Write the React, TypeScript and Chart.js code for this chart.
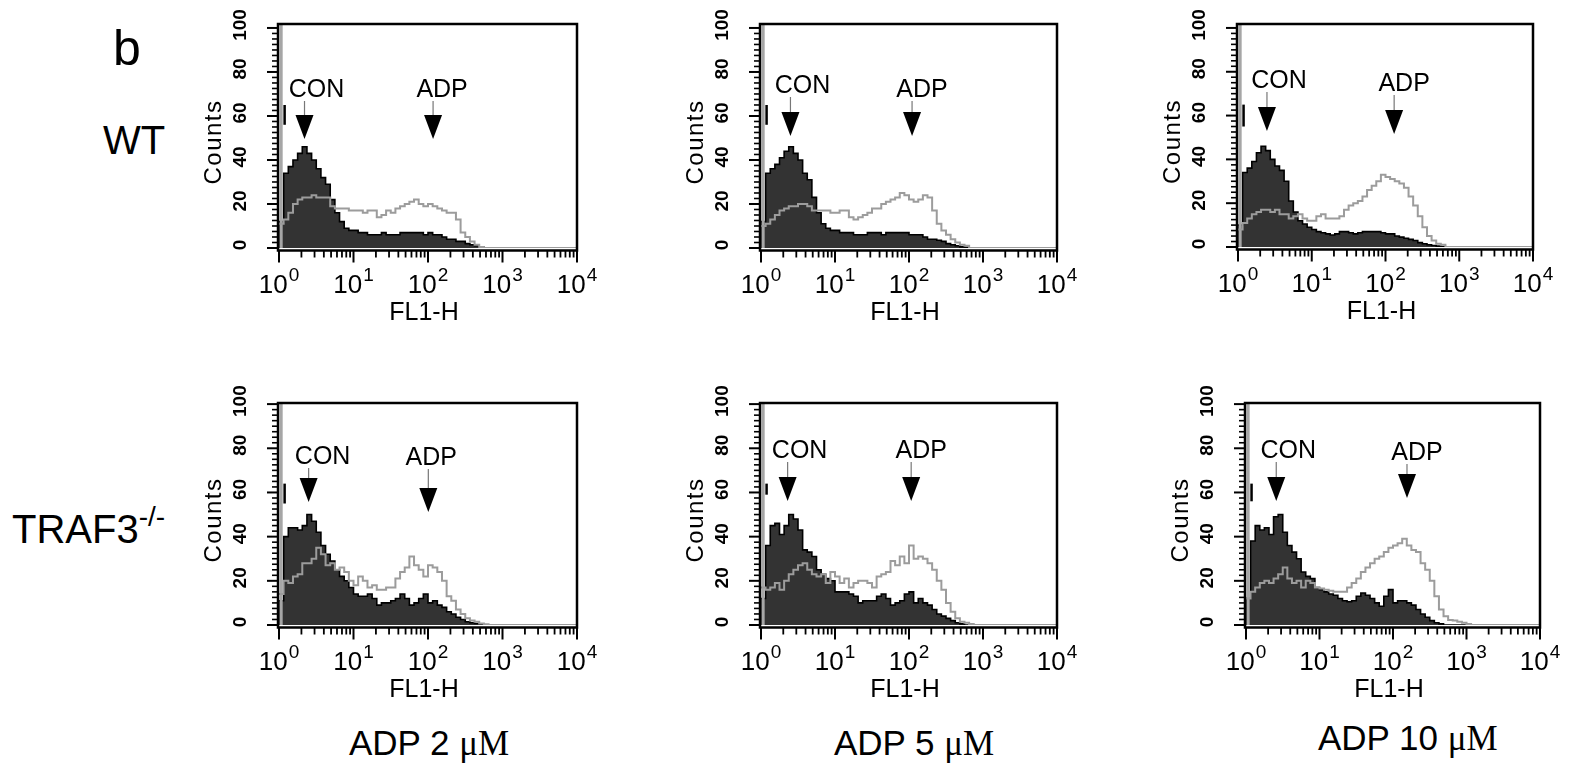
import React, { useEffect, useRef } from "react";
import { Chart, registerables } from "chart.js";

Chart.register(...registerables);

const SANS = '"Liberation Sans", Arial, Helvetica, sans-serif';
const SERIF = '"Liberation Serif", "Times New Roman", serif';

// ---- axis definitions ----
const BINS_PER_DECADE = 16;
const xDecades = [0, 1, 2, 3, 4];
const xMinorMultipliers = [2, 3, 4, 5, 6, 7, 8, 9];
const yTickLabels = [0, 20, 40, 60, 80, 100];
const yMinorStep = 2.5;

// ---- histogram counts (16 bins per decade, starting at 10^0) ----
// WT, ADP 2 uM
const wt2Con = [12, 34, 37, 40, 43, 46, 43, 40, 36, 32, 29, 22, 16, 12, 9, 8, 8, 7, 7, 6, 6, 6, 7, 6, 6, 6, 7, 7, 7, 7, 7, 6, 7, 6, 6, 5, 4, 4, 3, 3, 2, 1.5, 1, 0.5, 0];
const wt2Adp = [11, 13, 16, 20, 22, 23, 23, 24, 23, 23, 23, 19, 18, 18, 18, 17, 17, 17, 16, 17, 17, 14, 15, 17, 16, 18, 19, 20, 21, 22, 20, 19, 20, 19, 18, 17, 16, 16, 13, 7, 5, 3, 1.5, 0.5, 0];
// WT, ADP 5 uM
const wt5Con = [12, 34, 36, 38, 41, 44, 46, 43, 40, 34, 31, 23, 16, 11, 9, 8, 8, 7, 7, 7, 6, 6, 6, 7, 7, 7, 6, 7, 7, 7, 7, 7, 6, 6, 6, 5, 4, 4, 3.5, 3, 2, 1.5, 1, 0.5, 0.3, 0];
const wt5Adp = [10, 11, 13, 15, 17, 18, 19, 19, 20, 20, 19, 17, 17, 17, 17, 16, 16, 17, 17, 14, 13, 14, 15, 16, 18, 18, 20, 21, 22, 23, 25, 24, 22, 21, 22, 24, 23, 17, 11, 8, 6, 4, 2.5, 1.5, 1, 0];
// WT, ADP 10 uM
const wt10Con = [10, 34, 36, 39, 43, 46, 44, 40, 37, 35, 30, 21, 16, 12, 10.5, 9, 8, 7, 6.5, 6, 5.5, 6, 7, 7, 6.5, 6, 6.5, 7, 7, 7, 7, 6.5, 6, 6, 5, 4.5, 4, 3.5, 3, 2, 1.5, 1, 0.7, 0.4, 0.2, 0];
const wt10Adp = [8, 11, 13, 15, 16, 17, 17, 16, 17, 15, 15, 13, 14, 15, 13, 12, 12, 14, 15, 13, 13, 13, 14, 17, 19, 20, 21, 23, 26, 28, 30, 33, 32, 31, 30, 29, 27, 23, 19, 14, 9, 5, 3, 1.5, 1, 0];
// TRAF3-/-, ADP 2 uM
const ko2Con = [11, 40, 44, 44, 43, 45, 50, 47, 42, 36, 32, 29, 25, 22, 20, 17, 14, 13, 13, 14, 12, 9, 10, 10, 11, 12, 14, 12, 9, 10, 12, 14, 10, 11, 9, 8, 6, 5, 3.5, 2.5, 1.5, 1, 0.7, 0.3, 0];
const ko2Adp = [14, 20, 19, 22, 23, 28, 28, 30, 35, 32, 27, 28, 25, 26, 24, 20, 18, 22, 20, 17, 18, 16, 16, 17, 17, 21, 24, 26, 31, 27, 25, 22, 27, 26, 24, 20, 13, 11, 7, 5, 3, 2, 1.5, 0.7, 0.3, 0];
// TRAF3-/-, ADP 5 uM
const ko5Con = [12, 36, 45, 46, 41, 45, 50, 48, 43, 34, 33, 31, 25, 23, 21, 20, 15, 15, 15, 14, 13, 10, 11, 11, 11, 13, 14, 12, 9, 10, 11, 14, 15, 10, 12, 10, 9, 7, 5, 4, 3, 2, 1, 0.5, 0];
const ko5Adp = [17, 16, 17, 19, 16, 20, 23, 25, 27, 28, 25, 23, 22, 23, 19, 24, 22, 19, 21, 17, 19, 20, 20, 19, 17, 22, 23, 24, 29, 27, 31, 28, 36, 30, 31, 30, 28, 25, 20, 16, 10, 6, 3, 1.5, 1, 0.5, 0];
// TRAF3-/-, ADP 10 uM
const ko10Con = [12, 38, 45, 43, 44, 41, 49, 50, 42, 36, 33, 30, 24, 22, 21, 17, 16, 15, 14, 13.5, 12, 11, 10.5, 11, 13, 14.5, 13.5, 12, 10, 8.5, 13, 16, 10, 11, 11, 10, 9, 7, 5, 3.5, 2, 1, 0.5, 0];
const ko10Adp = [12, 15, 17, 19, 20, 19, 21, 23, 26, 21, 19, 20, 17, 20, 19, 17, 16.5, 16, 15.5, 15, 15, 15, 17, 19, 21, 24, 26, 28, 30, 31, 33, 35, 36, 37, 39, 36, 34, 33, 28, 25, 20, 13, 7, 4, 2.3, 2, 1.5, 1, 0.5, 0];

// off-scale first channel (gray = full height), short black segment (counts range)
const firstChannelX = [1.07, 1.19];
const conFirstSegment = [[56, 65], [56, 65], [55, 65], [55, 64], [59, 64], [56, 64]];

// peak markers (FL1-H value under each arrow)
const conArrowX = [2.2, 2.5, 2.47, 2.5, 2.29, 2.58];
const adpArrowX = [117, 110, 131, 101, 107, 155];

const panelSeries = [
  { con: wt2Con, adp: wt2Adp },
  { con: wt5Con, adp: wt5Adp },
  { con: wt10Con, adp: wt10Adp },
  { con: ko2Con, adp: ko2Adp },
  { con: ko5Con, adp: ko5Adp },
  { con: ko10Con, adp: ko10Adp },
];

// ---- layout (pixels) ----
const panelLayout = [
  { left: 279, right: 577, top: 24, bottom: 248, yMax: 101.8, con: [73, 91, 12], adp: [73, 91, 9] },
  { left: 761, right: 1057, top: 24, bottom: 248, yMax: 101.8, con: [69, 88, 12], adp: [73, 88, 10] },
  { left: 1238, right: 1533, top: 24, bottom: 247, yMax: 101.8, con: [64, 83, 12], adp: [67, 86, 10] },
  { left: 279, right: 577, top: 403, bottom: 625, yMax: 100.5, con: [61, 75, 14], adp: [62, 85, 3] },
  { left: 761, right: 1057, top: 403, bottom: 625, yMax: 100.5, con: [55, 74, 12], adp: [55, 74, 10] },
  { left: 1246, right: 1540, top: 403, bottom: 625, yMax: 100.5, con: [55, 74, 12], adp: [57, 71, 10] },
];
const PAD = { left: 100, right: 34, top: 30, bottom: 90 };

function histogramPoints(values: number[]) {
  const pts = values.map((v, i) => ({ x: Math.pow(10, i / BINS_PER_DECADE), y: v }));
  pts.push({ x: Math.pow(10, values.length / BINS_PER_DECADE), y: 0 });
  pts.push({ x: 10000, y: 0 });
  return pts;
}

function makeAxesPlugin(idx: number) {
  const L = panelLayout[idx];
  return {
    id: "facsAxes" + idx,
    afterDatasetsDraw(chart: any) {
      const { ctx, chartArea: a, scales } = chart;
      const xs = scales.x;
      const ys = scales.y;
      const axisY = a.bottom + 2.5;
      ctx.save();
      ctx.strokeStyle = "#000";
      ctx.fillStyle = "#000";
      // frame
      ctx.lineWidth = 2.5;
      ctx.beginPath();
      ctx.moveTo(a.left - 1, a.top);
      ctx.lineTo(a.right, a.top);
      ctx.lineTo(a.right, axisY);
      ctx.lineTo(a.left - 1, axisY);
      ctx.closePath();
      ctx.stroke();
      // y ticks
      for (let v = 0; v <= 100.001; v += yMinorStep) {
        const py = ys.getPixelForValue(v);
        const major = Math.abs(v % 20) < 1e-6;
        ctx.lineWidth = major ? 2 : 1.6;
        ctx.beginPath();
        ctx.moveTo(a.left - 1, py);
        ctx.lineTo(a.left - (major ? 12 : 7), py);
        ctx.stroke();
      }
      // y tick labels (rotated)
      ctx.font = `bold 19px ${SANS}`;
      ctx.textAlign = "center";
      ctx.textBaseline = "middle";
      for (const v of yTickLabels) {
        const py = ys.getPixelForValue(v);
        ctx.save();
        ctx.translate(a.left - 38, py - 3);
        ctx.rotate(-Math.PI / 2);
        ctx.fillText(String(v), 0, 0);
        ctx.restore();
      }
      // Counts title
      ctx.save();
      ctx.font = `24px ${SANS}`;
      (ctx as any).letterSpacing = "1.5px";
      ctx.translate(a.left - 65, (a.top + a.bottom) / 2 + 6);
      ctx.rotate(-Math.PI / 2);
      ctx.fillText("Counts", 0, 0);
      ctx.restore();
      // x ticks
      for (const d of xDecades) {
        const base = Math.pow(10, d);
        const px = xs.getPixelForValue(base);
        ctx.lineWidth = 2;
        ctx.beginPath();
        ctx.moveTo(px, axisY);
        ctx.lineTo(px, axisY + 12);
        ctx.stroke();
        if (d < 4) {
          for (const m of xMinorMultipliers) {
            const pm = xs.getPixelForValue(m * base);
            ctx.lineWidth = 1.8;
            ctx.beginPath();
            ctx.moveTo(pm, axisY);
            ctx.lineTo(pm, axisY + 7);
            ctx.stroke();
          }
        }
      }
      // x tick labels 10^d
      ctx.textAlign = "left";
      ctx.textBaseline = "alphabetic";
      for (const d of xDecades) {
        const px = xs.getPixelForValue(Math.pow(10, d));
        ctx.font = `26px ${SANS}`;
        const w1 = ctx.measureText("10").width;
        ctx.font = `19px ${SANS}`;
        const w2 = ctx.measureText(String(d)).width;
        const start = px - (w1 + w2 + 1) / 2;
        ctx.font = `26px ${SANS}`;
        ctx.fillText("10", start, a.bottom + 45);
        ctx.font = `19px ${SANS}`;
        ctx.fillText(String(d), start + w1 + 1, a.bottom + 33);
      }
      // x title
      ctx.font = `25px ${SANS}`;
      ctx.textAlign = "center";
      ctx.fillText("FL1-H", (a.left + a.right) / 2 - 4, a.bottom + 72);
      // peak markers
      const markers: [string, number, number[]][] = [
        ["CON", conArrowX[idx], L.con],
        ["ADP", adpArrowX[idx], L.adp],
      ];
      for (const [txt, xv, lay] of markers) {
        const px = xs.getPixelForValue(xv);
        const [lblY, triY, dx] = lay;
        ctx.font = `25px ${SANS}`;
        ctx.textAlign = "center";
        ctx.fillStyle = "#000";
        ctx.fillText(txt, px + dx, a.top + lblY);
        ctx.strokeStyle = "#777";
        ctx.lineWidth = 1.2;
        ctx.beginPath();
        ctx.moveTo(px, a.top + lblY + 4);
        ctx.lineTo(px, a.top + triY + 1);
        ctx.stroke();
        ctx.beginPath();
        ctx.moveTo(px - 9, a.top + triY);
        ctx.lineTo(px + 9, a.top + triY);
        ctx.lineTo(px, a.top + triY + 24);
        ctx.closePath();
        ctx.fill();
      }
      ctx.restore();
    },
  };
}

function Panel({ idx }: { idx: number }) {
  const ref = useRef<HTMLCanvasElement | null>(null);
  const L = panelLayout[idx];
  const w = PAD.left + (L.right - L.left) + PAD.right;
  const h = PAD.top + (L.bottom - L.top) + PAD.bottom;

  useEffect(() => {
    if (!ref.current) return;
    const s = panelSeries[idx];
    const seg = conFirstSegment[idx];
    const chart = new Chart(ref.current, {
      type: "line",
      data: {
        datasets: [
          {
            label: "ADP",
            data: histogramPoints(s.adp),
            stepped: true,
            borderColor: "#9c9c9c",
            borderWidth: 2,
            fill: false,
            pointRadius: 0,
          },
          {
            label: "ADP first channel",
            data: [
              { x: firstChannelX[0], y: 0 },
              { x: firstChannelX[0], y: L.yMax },
            ],
            borderColor: "#a6a6a6",
            borderWidth: 3,
            fill: false,
            pointRadius: 0,
          },
          {
            label: "CON first channel",
            data: [
              { x: firstChannelX[1], y: seg[0] },
              { x: firstChannelX[1], y: seg[1] },
            ],
            borderColor: "#000",
            borderWidth: 2.5,
            fill: false,
            pointRadius: 0,
          },
          {
            label: "CON",
            data: histogramPoints(s.con),
            stepped: true,
            borderColor: "#000",
            borderWidth: 1.6,
            backgroundColor: "#333333",
            fill: "origin",
            pointRadius: 0,
          },
        ],
      },
      options: {
        responsive: false,
        animation: false,
        devicePixelRatio: 1,
        layout: { padding: PAD },
        scales: {
          x: { type: "logarithmic", min: 1, max: 10000, display: false },
          y: { type: "linear", min: 0, max: L.yMax, display: false },
        },
        plugins: { legend: { display: false }, tooltip: { enabled: false } },
        events: [],
      },
      plugins: [makeAxesPlugin(idx)],
    } as any);
    return () => chart.destroy();
  }, [idx]);

  return (
    <canvas
      ref={ref}
      width={w}
      height={h}
      style={{ position: "absolute", left: L.left - PAD.left, top: L.top - PAD.top, width: w, height: h }}
    />
  );
}

function Text({ x, baseline, size, children, family = SANS }: any) {
  return (
    <div
      style={{
        position: "absolute",
        left: x,
        top: baseline - size * 0.8465,
        fontSize: size,
        lineHeight: 1,
        fontFamily: family,
        whiteSpace: "nowrap",
        color: "#000",
      }}
    >
      {children}
    </div>
  );
}

const rowLabels = ["WT", "TRAF3"];
const columnLabels = ["ADP 2", "ADP 5", "ADP 10"];

export default function App() {
  return (
    <div
      style={{
        position: "fixed",
        left: 0,
        top: 0,
        width: 1578,
        height: 766,
        background: "#fff",
        overflow: "hidden",
      }}
    >
      {panelLayout.map((_, i) => (
        <Panel key={i} idx={i} />
      ))}
      <Text x={113} baseline={65} size={50}>b</Text>
      <Text x={103} baseline={154} size={40}>{rowLabels[0]}</Text>
      <Text x={12} baseline={537} size={40}>
        {rowLabels[1]}
        <span style={{ fontSize: 28, verticalAlign: 17 }}>-/-</span>
      </Text>
      <Text x={349} baseline={755} size={35}>
        {columnLabels[0]} <span style={{ fontFamily: SERIF }}>μM</span>
      </Text>
      <Text x={834} baseline={755} size={35}>
        {columnLabels[1]} <span style={{ fontFamily: SERIF }}>μM</span>
      </Text>
      <Text x={1318} baseline={750} size={35}>
        {columnLabels[2]} <span style={{ fontFamily: SERIF }}>μM</span>
      </Text>
    </div>
  );
}
